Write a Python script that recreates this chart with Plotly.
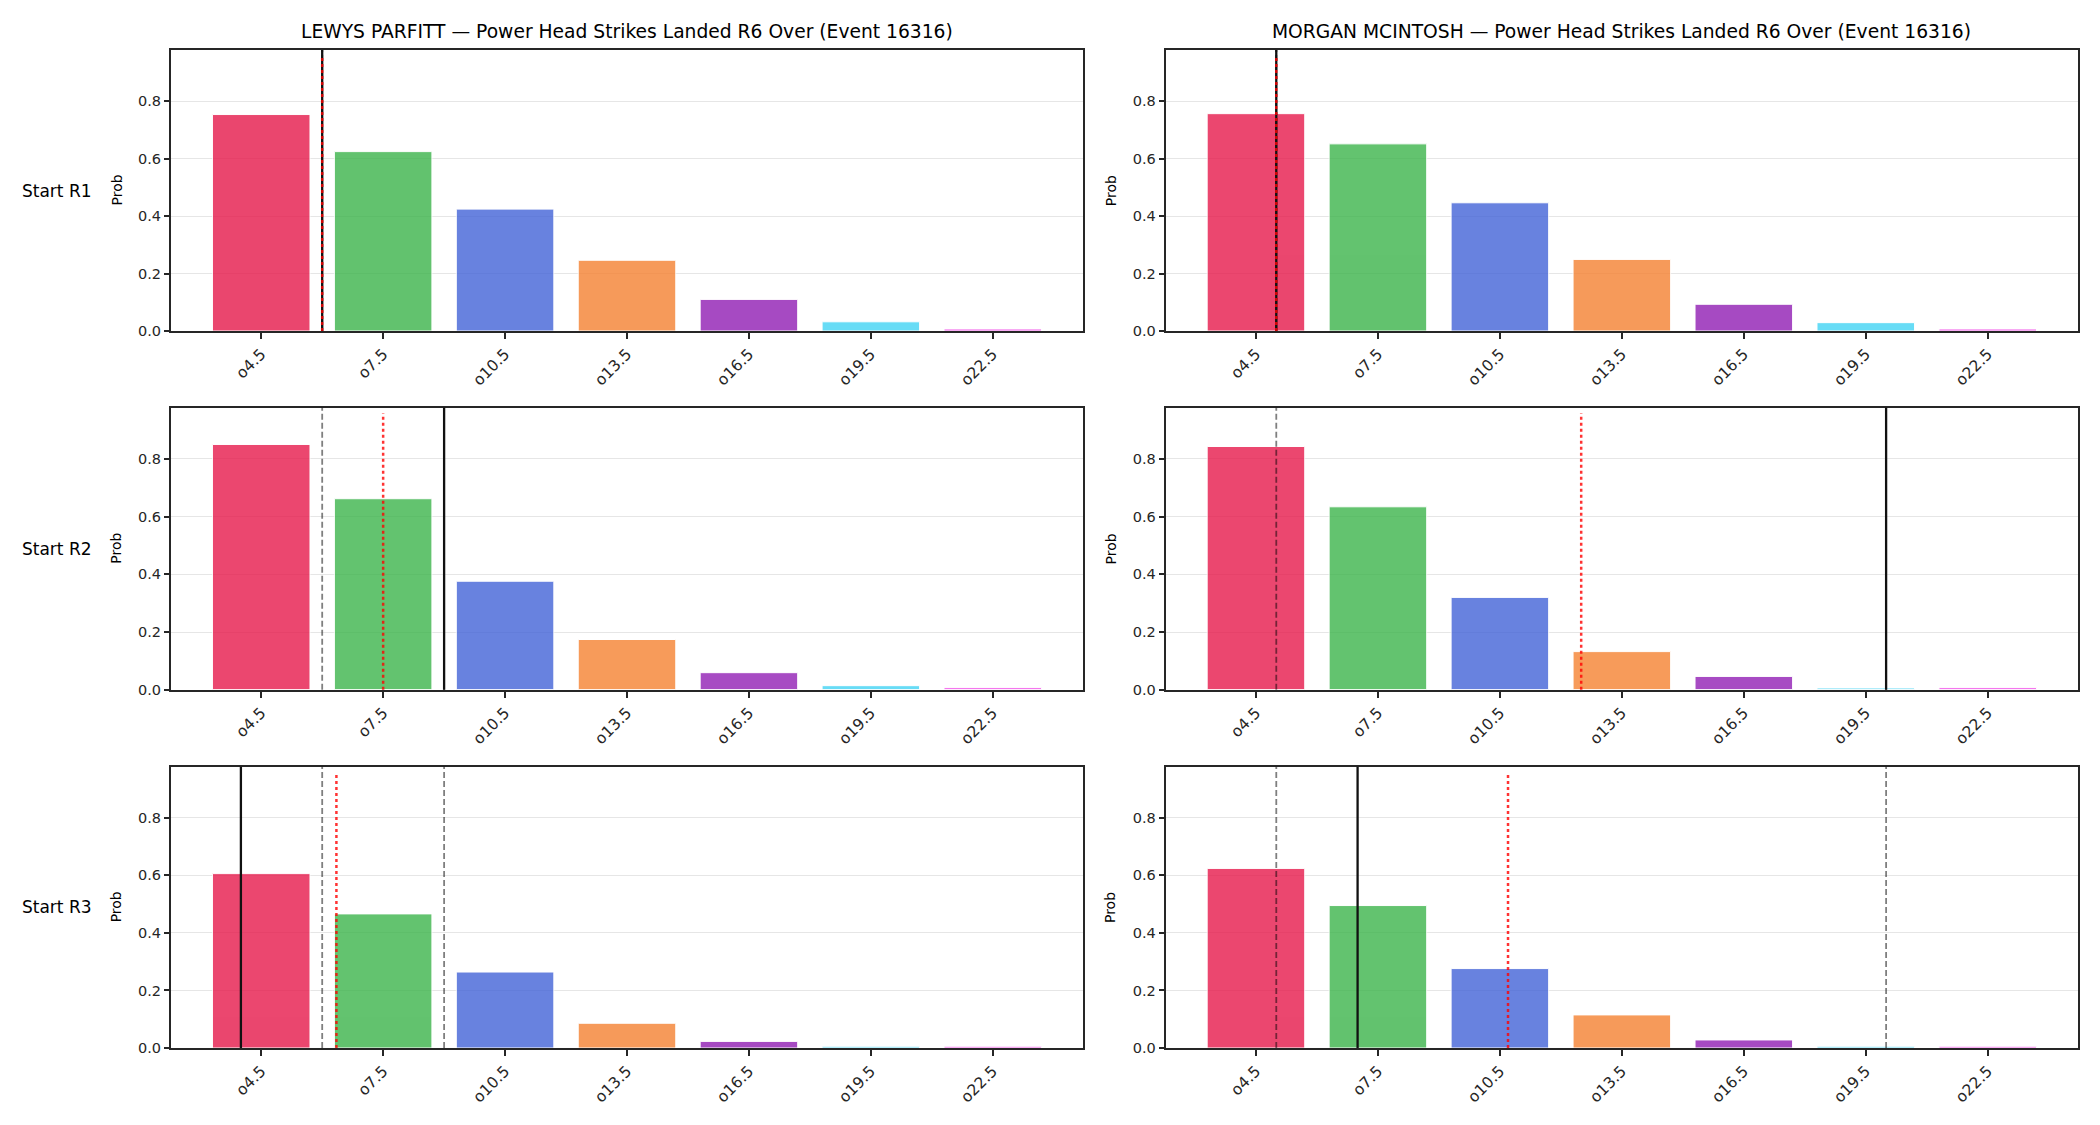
import plotly.graph_objects as go

# ---- data ----
lines = ["o4.5", "o7.5", "o10.5", "o13.5", "o16.5", "o19.5", "o22.5"]
line_values = [4.5, 7.5, 10.5, 13.5, 16.5, 19.5, 22.5]
players = ["LEWYS PARFITT", "MORGAN MCINTOSH"]
row_labels = ["Start R1", "Start R2", "Start R3"]
market = "Power Head Strikes Landed R6 Over (Event 16316)"

parfitt_r1 = [0.753, 0.624, 0.424, 0.246, 0.110, 0.032, 0.007]
parfitt_r2 = [0.850, 0.662, 0.376, 0.174, 0.059, 0.014, 0.007]
parfitt_r3 = [0.606, 0.466, 0.264, 0.086, 0.023, 0.006, 0.006]
mcintosh_r1 = [0.756, 0.651, 0.446, 0.249, 0.093, 0.029, 0.007]
mcintosh_r2 = [0.843, 0.634, 0.320, 0.132, 0.046, 0.006, 0.007]
mcintosh_r3 = [0.624, 0.495, 0.276, 0.115, 0.028, 0.006, 0.006]

# reference markers in strike-count units
parfitt_actual = [6, 9, 4]
parfitt_mean = [6, 7.5, 6.35]
parfitt_band = [(6, 6), (6, 9), (6, 9)]
mcintosh_actual = [5, 20, 7]
mcintosh_mean = [5, 12.5, 10.7]
mcintosh_band = [(5, 5), (5, 20), (5, 20)]

bar_colors = ["#e6194b", "#3cb44b", "#4363d8", "#f58231", "#911eb4", "#42d4f4", "#f032e6"]

probs = [[parfitt_r1, mcintosh_r1], [parfitt_r2, mcintosh_r2], [parfitt_r3, mcintosh_r3]]
actuals = [parfitt_actual, mcintosh_actual]
means = [parfitt_mean, mcintosh_mean]
bands = [parfitt_band, mcintosh_band]

# ---- layout geometry (pixels) ----
W, H = 2100, 1125
col_px = [(171, 1083), (1165.7, 2078)]
row_px = [(50, 331), (407.7, 689.7), (766.7, 1048)]
FONT = "DejaVu Sans"
DARK = "#262626"

ymax = max(max(max(p) for p in r) for r in probs) * 1.15
step = line_values[1] - line_values[0]


def to_idx(v):
    return (v - line_values[0]) / step


fig = go.Figure()
layout = dict(
    width=W, height=H, margin=dict(l=0, r=0, t=0, b=0, pad=0, autoexpand=False),
    paper_bgcolor="white", plot_bgcolor="white",
    font=dict(family=FONT, color=DARK, size=14),
    showlegend=False,
)
shapes = []
annotations = []

k = 0
for r in range(3):
    for c in range(2):
        k += 1
        xa = "x" if k == 1 else f"x{k}"
        ya = "y" if k == 1 else f"y{k}"
        xkey = "xaxis" if k == 1 else f"xaxis{k}"
        ykey = "yaxis" if k == 1 else f"yaxis{k}"
        x0p, x1p = col_px[c]
        t, b = row_px[r]
        layout[xkey] = dict(
            domain=[x0p / W, x1p / W], anchor=ya, range=[-0.74, 6.74],
            tickvals=list(range(len(lines))), ticktext=lines, tickangle=-45,
            ticks="outside", ticklen=6, tickwidth=1.5, tickcolor=DARK,
            showline=True, linecolor=DARK, linewidth=2, mirror=True, automargin=False,
            showgrid=False, zeroline=False, tickfont=dict(size=15.5, color=DARK),
        )
        layout[ykey] = dict(
            domain=[1 - b / H, 1 - t / H], anchor=xa, range=[0, ymax],
            tickvals=[0, 0.2, 0.4, 0.6, 0.8], ticktext=["0.0", "0.2", "0.4", "0.6", "0.8"],
            ticks="outside", ticklen=5, tickwidth=1.5, tickcolor=DARK,
            showline=True, linecolor=DARK, linewidth=2, mirror=True, automargin=False,
            showgrid=True, gridcolor="#e6e6e6", gridwidth=1, zeroline=False,
            tickfont=dict(size=14.5, color=DARK),
        )
        fig.add_trace(go.Bar(
            x=list(range(len(lines))), y=probs[r][c], width=0.8,
            marker=dict(color=bar_colors, opacity=0.8, line=dict(color="white", width=1)),
            xaxis=xa, yaxis=ya, hoverinfo="skip",
        ))
        # dashed band lines
        for v in bands[c][r]:
            shapes.append(dict(type="line", xref=xa, yref=f"{ya} domain",
                               x0=to_idx(v), x1=to_idx(v), y0=0, y1=1,
                               line=dict(color="rgba(0,0,0,0.5)", width=1.8, dash="6px,3px")))
        # actual
        v = actuals[c][r]
        shapes.append(dict(type="line", xref=xa, yref=f"{ya} domain",
                           x0=to_idx(v), x1=to_idx(v), y0=0, y1=1,
                           line=dict(color="#111111", width=2.3)))
        # mean
        v = means[c][r]
        shapes.append(dict(type="line", xref=xa, yref=f"{ya} domain",
                           x0=to_idx(v), x1=to_idx(v), y0=0, y1=0.98,
                           line=dict(color="rgba(255,0,0,0.8)", width=2.5, dash="3px,3px")))
        # Prob label
        annotations.append(dict(
            text="Prob", xref="paper", yref="paper", x=(x0p - 55) / W, y=1 - (t + b) / 2 / H,
            xanchor="center", yanchor="middle", textangle=-90, showarrow=False,
            font=dict(size=14, color="black", family=FONT)))
        if r == 0:
            annotations.append(dict(
                text=f"{players[c]} — {market}", xref="paper", yref="paper",
                x=(x0p + x1p) / 2 / W, y=1 - 31 / H, xanchor="center", yanchor="middle",
                showarrow=False, font=dict(size=18.7, color="black", family=FONT)))
    annotations.append(dict(
        text=row_labels[r], xref="paper", yref="paper", x=20 / W,
        y=1 - (row_px[r][0] + row_px[r][1]) / 2 / H, xanchor="left", yanchor="middle",
        showarrow=False, font=dict(size=17, color="black", family=FONT)))

layout["shapes"] = shapes
layout["annotations"] = annotations
fig.update_layout(**layout)
fig.write_html("out.html")
